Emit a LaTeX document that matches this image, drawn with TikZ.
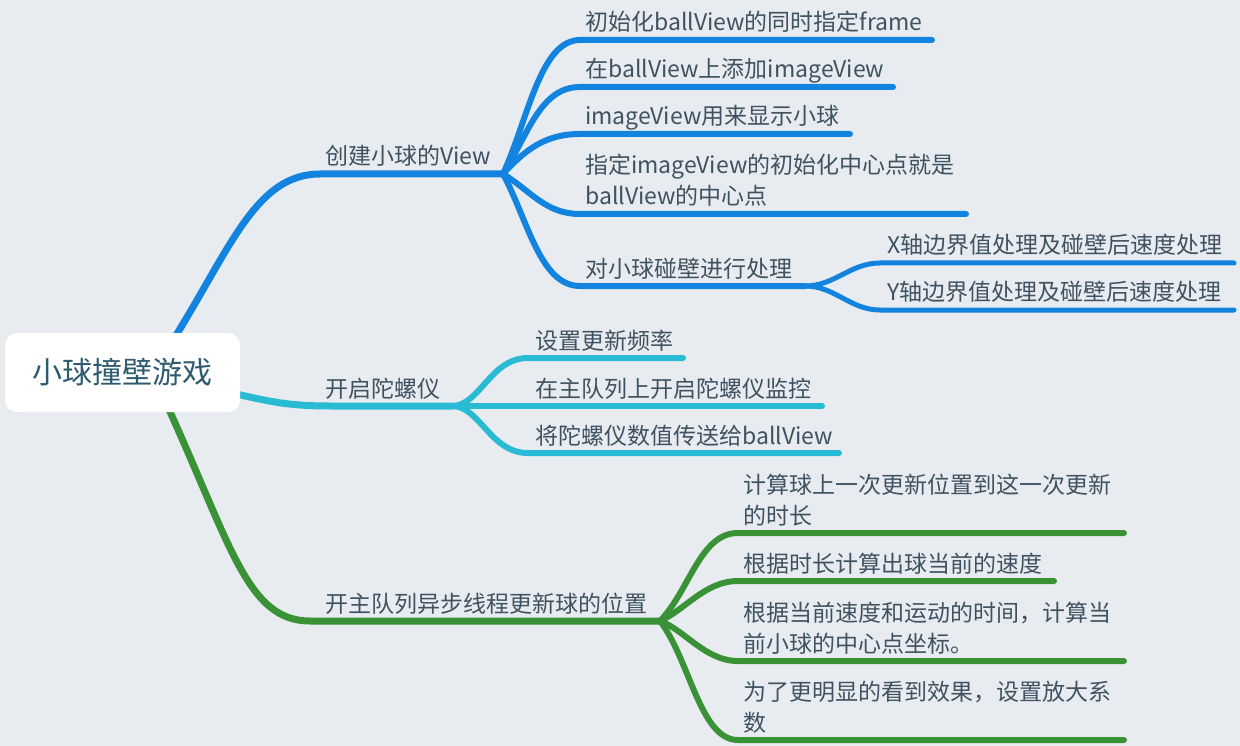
\documentclass[tikz,border=0pt]{standalone}
\usepackage{fontspec}
\setmainfont{Noto Sans CJK SC}
\definecolor{bgc}{HTML}{E8ECF0}
\definecolor{cblue}{HTML}{1284DF}
\definecolor{ccyan}{HTML}{29BBD3}
\definecolor{cgreen}{HTML}{3A9237}
\definecolor{ctext}{HTML}{3F5262}
\definecolor{croot}{HTML}{2E5A6F}
\begin{document}
\begin{tikzpicture}[x=1pt,y=-1pt,
  lbl/.style={anchor=base west,inner sep=0pt,text=ctext,font=\fontsize{23}{31}\selectfont,align=left},
  bl/.style={draw=cblue,line width=7pt,line cap=round},
  cy/.style={draw=ccyan,line width=7pt,line cap=round},
  gr/.style={draw=cgreen,line width=7pt,line cap=round},
  thin/.style={line width=6pt}]
\fill[bgc] (0,0) rectangle (1240,746);
\useasboundingbox (0,0) rectangle (1240,746);
% coordinates
\coordinate (rc) at (122,372);
\coordinate (bB) at (503,174);
\coordinate (bC) at (452,406);
\coordinate (bG) at (660,621);
\coordinate (bXY) at (805,286);
% main branches
\draw[bl] (rc) -- (170,345)
  .. controls (230,250) and (255,174) .. (320,174) -- (bB);
\draw[cy] (rc) -- (200,386) .. controls (265,400) and (280,406) .. (330,406) -- (bC);
\draw[gr] (rc) -- (160,390) .. controls (230,540) and (245,621) .. (310,621) -- (bG);
% root
\node[fill=white,rounded corners=12pt,minimum width=235pt,minimum height=79pt,inner sep=0pt,
  text=croot,font=\fontsize{30}{36}\selectfont] (root) at (122.5,372.5) {小球撞壁游戏};
% main labels
\node[lbl] (nB) at (325,165) {创建小球的View};
\node[lbl] (nC) at (325,397) {开启陀螺仪};
\node[lbl] (nG) at (325,612) {开主队列异步线程更新球的位置};
% blue children
\coordinate (e1) at (932,40);
\coordinate (e2) at (893,87);
\coordinate (e3) at (850,134);
\coordinate (e4) at (966,214);
\draw[bl,thin] (bB) .. controls (528,120) and (540,40) .. (580,40) -- (e1);
\draw[bl,thin] (bB) .. controls (528,135) and (540,87) .. (580,87) -- (e2);
\draw[bl,thin] (bB) .. controls (525,150) and (545,134) .. (580,134) -- (e3);
\draw[bl,thin] (bB) .. controls (530,190) and (545,214) .. (580,214) -- (e4);
\draw[bl,thin] (bB) .. controls (528,220) and (540,286) .. (580,286) -- (bXY);
\node[lbl] (c1) at (585,31) {初始化ballView的同时指定frame};
\node[lbl] (c2) at (585,78) {在ballView上添加imageView};
\node[lbl] (c3) at (585,125) {imageView用来显示小球};
\node[lbl] (c4) at (585,205) {指定imageView的初始化中心点就是\\ballView的中心点};
\node[lbl] (c5) at (585,277) {对小球碰壁进行处理};
% X / Y
\coordinate (ex) at (1234,263);
\coordinate (ey) at (1234,310);
\draw[bl,line width=5pt] (bXY) .. controls (835,286) and (850,263) .. (880,263) -- (ex);
\draw[bl,line width=5pt] (bXY) .. controls (835,286) and (850,310) .. (880,310) -- (ey);
\node[lbl] (cx) at (887,254) {X轴边界值处理及碰壁后速度处理};
\node[lbl] (cyy) at (887,301) {Y轴边界值处理及碰壁后速度处理};
% cyan children
\coordinate (f1) at (683,358);
\coordinate (f2) at (822,406);
\coordinate (f3) at (839,453);
\draw[cy,thin] (bC) .. controls (480,406) and (490,358) .. (528,358) -- (f1);
\draw[cy,thin] (bC) -- (f2);
\draw[cy,thin] (bC) .. controls (480,406) and (490,453) .. (528,453) -- (f3);
\node[lbl] (d1) at (535,349) {设置更新频率};
\node[lbl] (d2) at (535,397) {在主队列上开启陀螺仪监控};
\node[lbl] (d3) at (535,444) {将陀螺仪数值传送给ballView};
% green children
\coordinate (g1) at (1124,533);
\coordinate (g2) at (1054,581);
\coordinate (g3) at (1124,661);
\coordinate (g4) at (1124,740);
\draw[gr,thin] (bG) .. controls (690,590) and (700,533) .. (738,533) -- (g1);
\draw[gr,thin] (bG) .. controls (685,610) and (705,581) .. (738,581) -- (g2);
\draw[gr,thin] (bG) .. controls (685,630) and (705,661) .. (738,661) -- (g3);
\draw[gr,thin] (bG) .. controls (690,660) and (700,740) .. (738,740) -- (g4);
\node[lbl] (h1) at (743,524) {计算球上一次更新位置到这一次更新\\的时长};
\node[lbl] (h2) at (743,572) {根据时长计算出球当前的速度};
\node[lbl] (h3) at (743,652) {根据当前速度和运动的时间，计算当\\前小球的中心点坐标。};
\node[lbl] (h4) at (743,731) {为了更明显的看到效果，设置放大系\\数};
\end{tikzpicture}
\end{document}
